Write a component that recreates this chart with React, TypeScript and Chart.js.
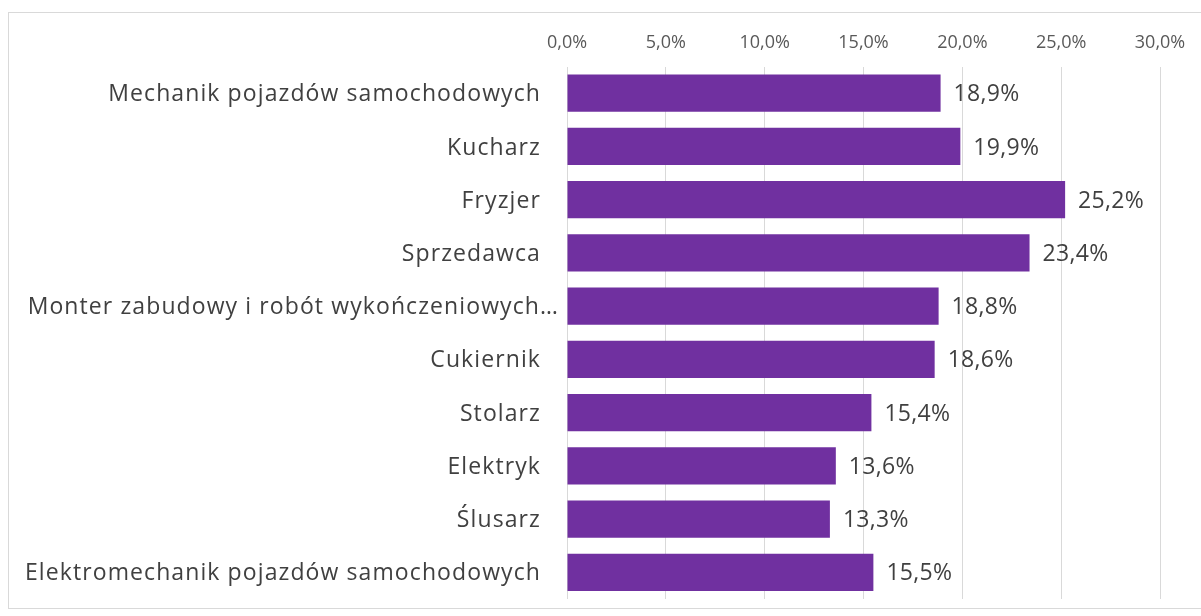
import React, { useEffect, useRef } from "react";
import { Chart, registerables } from "chart.js";

Chart.register(...registerables);

const categories = [
  "Mechanik pojazdów samochodowych",
  "Kucharz",
  "Fryzjer",
  "Sprzedawca",
  "Monter zabudowy i robót wykończeniowych…",
  "Cukiernik",
  "Stolarz",
  "Elektryk",
  "Ślusarz",
  "Elektromechanik pojazdów samochodowych",
];
const values = [18.9, 19.9, 25.2, 23.4, 18.8, 18.6, 15.4, 13.6, 13.3, 15.5];
const tickValues = [0, 5, 10, 15, 20, 25, 30];

const FONT = "'Open Sans', 'Noto Sans', sans-serif";
const fmt = (v: number) => v.toFixed(1).replace(".", ",") + "%";

const labelsPlugin = {
  id: "customLabels",
  afterDatasetsDraw(chart: any) {
    const ctx = chart.ctx;
    const yScale = chart.scales.y;
    const meta = chart.getDatasetMeta(0);
    ctx.save();
    ctx.fillStyle = "#404040";
    ctx.textBaseline = "middle";
    // category labels
    ctx.font = `23px ${FONT}`;
    (ctx as any).letterSpacing = "1.1px";
    ctx.textAlign = "right";
    categories.forEach((c, i) => {
      const y = yScale.getPixelForTick(i);
      const right = c.endsWith("…") ? 559 : 541;
      ctx.fillText(c, right, y + 1.5);
    });
    // value labels
    (ctx as any).letterSpacing = "0.3px";
    ctx.font = `23px ${FONT}`;
    ctx.textAlign = "left";
    meta.data.forEach((bar: any, i: number) => {
      ctx.fillText(fmt(values[i]), bar.x + 13, bar.y + 1.5);
    });
    ctx.restore();
  },
};

export default function App() {
  const ref = useRef<HTMLCanvasElement>(null);
  useEffect(() => {
    if (!ref.current) return;
    const chart = new Chart(ref.current, {
      type: "bar",
      data: {
        labels: categories,
        datasets: [
          {
            data: values,
            backgroundColor: "#7030A0",
            borderWidth: 0,
            barPercentage: 0.7,
            categoryPercentage: 1,
          },
        ],
      },
      options: {
        indexAxis: "y",
        responsive: false,
        animation: false,
        layout: { padding: { left: 567, right: 41, top: 19, bottom: 17 } },
        plugins: { legend: { display: false }, tooltip: { enabled: false } },
        scales: {
          x: {
            position: "top",
            min: 0,
            max: 30,
            afterBuildTicks: (s: any) => {
              s.ticks = tickValues.map((v) => ({ value: v }));
            },
            ticks: {
              padding: 13,
              color: "#595959",
              font: { family: FONT, size: 18 },
              callback: (v: any) => fmt(Number(v)),
            },
            grid: { color: "#d9d9d9", drawTicks: false, lineWidth: 1 },
            border: { display: false },
          },
          y: {
            display: false,
          },
        },
      },
      plugins: [labelsPlugin],
    });
    return () => chart.destroy();
  }, []);
  return (
    <div style={{ position: "absolute", left: 0, top: 0, width: 1201, height: 616, background: "#fff", overflow: "hidden" }}>
      <div
        style={{
          position: "absolute",
          left: 8,
          top: 12,
          width: 1220,
          height: 595,
          border: "1px solid #d9d9d9",
        }}
      />
      <canvas ref={ref} width={1201} height={616} style={{ position: "absolute", left: 0, top: 0 }} />
    </div>
  );
}
